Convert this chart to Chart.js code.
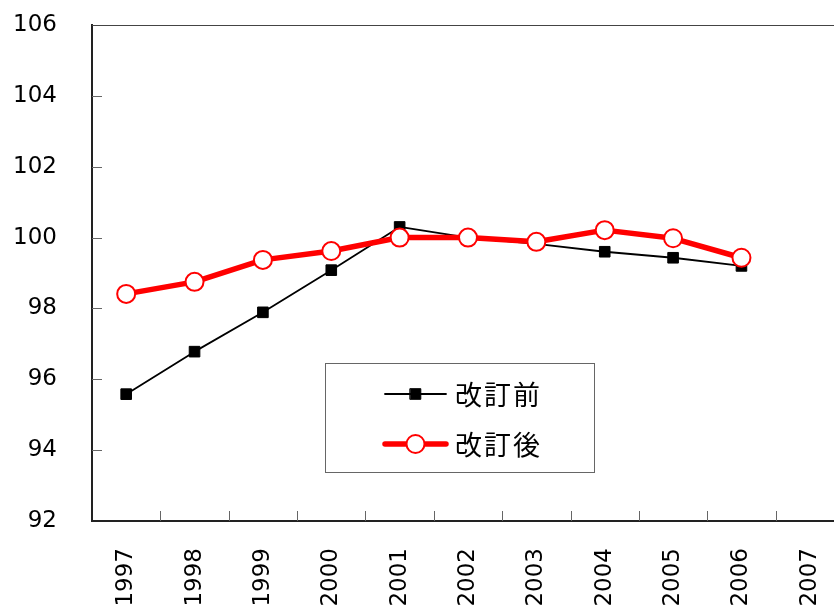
<!DOCTYPE html>
<html>
<head>
<meta charset="utf-8">
<script src="https://cdn.jsdelivr.net/npm/chart.js@4/dist/chart.umd.min.js"></script>
<style>
  html, body { margin: 0; padding: 0; background: #fff; overflow: hidden; }
  #wrap { width: 834px; height: 608px; overflow: hidden; }
  canvas { display: block; }
</style>
</head>
<body>
<div id="wrap"><canvas id="c" width="855" height="608"></canvas></div>
<script>
// Years on the category axis
const years = ['1997', '1998', '1999', '2000', '2001', '2002', '2003', '2004', '2005', '2006', '2007'];
// Index values before and after the revision
const beforeRevision = [95.58, 96.78, 97.89, 99.08, 100.3, 100.0, 99.82, 99.6, 99.43, 99.2, null];
const afterRevision  = [98.41, 98.75, 99.37, 99.62, 100.0, 100.0, 99.88, 100.21, 99.98, 99.43, null];
// Series names
const seriesNames = ['改訂前', '改訂後'];
// Value axis range and step
const yMin = 92, yMax = 106, yStep = 2;

// Inward tick marks, top frame line and the boxed legend inside the plot
const framePlugin = {
  id: 'frame',
  afterDraw(chart) {
    const { ctx, chartArea: a, scales } = chart;
    const x = scales.x, y = scales.y;
    ctx.save();
    // top frame line
    ctx.strokeStyle = '#444';
    ctx.lineWidth = 1.2;
    ctx.beginPath();
    ctx.moveTo(a.left, a.top + 0.5);
    ctx.lineTo(a.right, a.top + 0.5);
    ctx.stroke();
    // tick marks pointing into the plot
    ctx.strokeStyle = '#666';
    ctx.lineWidth = 1;
    ctx.beginPath();
    y.ticks.forEach(t => {
      if (t.value === yMin || t.value === yMax) return;
      const py = Math.round(y.getPixelForValue(t.value)) + 0.5;
      ctx.moveTo(a.left, py);
      ctx.lineTo(a.left + 10, py);
    });
    for (let i = 0; i < years.length - 1; i++) {
      const px = Math.round((x.getPixelForValue(i) + x.getPixelForValue(i + 1)) / 2) + 0.5;
      ctx.moveTo(px, a.bottom);
      ctx.lineTo(px, a.bottom - 10);
    }
    ctx.stroke();

    // legend box
    const bx = 325, by = 363, bw = 269, bh = 109;
    ctx.fillStyle = '#fff';
    ctx.fillRect(bx, by, bw, bh);
    ctx.strokeStyle = '#666';
    ctx.lineWidth = 1;
    ctx.strokeRect(bx + 0.5, by + 0.5, bw, bh);

    const entries = [...chart.data.datasets].sort((p, q) => p.legendIndex - q.legendIndex);
    const rows = [394, 444];
    entries.forEach((ds, i) => {
      const cy = rows[i];
      ctx.strokeStyle = ds.borderColor;
      ctx.lineWidth = ds.borderWidth;
      ctx.lineCap = 'round';
      ctx.beginPath();
      ctx.moveTo(385, cy);
      ctx.lineTo(446, cy);
      ctx.stroke();
      ctx.fillStyle = ds.pointBackgroundColor;
      ctx.strokeStyle = ds.pointBorderColor;
      ctx.lineWidth = ds.pointBorderWidth;
      ctx.beginPath();
      if (ds.pointStyle === 'circle') {
        ctx.arc(415.5, cy, ds.legendRadius, 0, Math.PI * 2);
      } else {
        const s = ds.legendRadius * Math.SQRT1_2;
        ctx.rect(415.5 - s, cy - s, 2 * s, 2 * s);
      }
      ctx.fill();
      ctx.stroke();
      ctx.fillStyle = '#000';
      ctx.font = '27px "Noto Sans CJK JP"';
      ctx.letterSpacing = '2px';
      ctx.textAlign = 'left';
      ctx.textBaseline = 'middle';
      ctx.fillText(ds.label, 455, cy + 1);
    });
    ctx.restore();
  }
};

new Chart(document.getElementById('c'), {
  type: 'line',
  data: {
    labels: years,
    datasets: [
      {
        label: seriesNames[0],
        data: beforeRevision,
        legendIndex: 0,
        order: 1,
        borderColor: '#000',
        borderWidth: 1.8,
        pointStyle: 'rect',
        pointRadius: 7.5,
        legendRadius: 7.5,
        pointBackgroundColor: '#000',
        pointBorderColor: '#000',
        pointBorderWidth: 1,
        tension: 0
      },
      {
        label: seriesNames[1],
        data: afterRevision,
        legendIndex: 1,
        order: 0,
        borderColor: '#ff0000',
        borderWidth: 5.5,
        pointStyle: 'circle',
        pointRadius: 9,
        legendRadius: 9,
        pointBackgroundColor: '#fff',
        pointBorderColor: '#ff0000',
        pointBorderWidth: 2,
        tension: 0
      }
    ]
  },
  options: {
    responsive: false,
    animation: false,
    layout: { padding: { top: 25, right: 2.5, bottom: 0, left: 0 } },
    plugins: { legend: { display: false }, tooltip: { enabled: false } },
    elements: { line: { borderJoinStyle: 'round' } },
    scales: {
      x: {
        offset: true,
        grid: { display: true, drawOnChartArea: false, drawTicks: false, offset: true },
        border: { display: true, color: '#222', width: 2 },
        ticks: {
          autoSkip: false,
          minRotation: 90,
          maxRotation: 90,
          padding: 27,
          color: '#000',
          font: { family: 'DejaVu Sans', size: 23 }
        },
        afterFit(s) { s.height = 87; s.paddingLeft = 0; s.paddingRight = 0; }
      },
      y: {
        min: yMin,
        max: yMax,
        grid: { display: true, drawOnChartArea: false, drawTicks: false },
        border: { display: true, color: '#222', width: 2 },
        ticks: {
          stepSize: yStep,
          padding: 35,
          color: '#000',
          font: { family: 'DejaVu Sans', size: 23 }
        },
        afterFit(s) { s.width = 92; s.paddingTop = 0; s.paddingBottom = 0; }
      }
    }
  },
  plugins: [framePlugin]
});
</script>
</body>
</html>
